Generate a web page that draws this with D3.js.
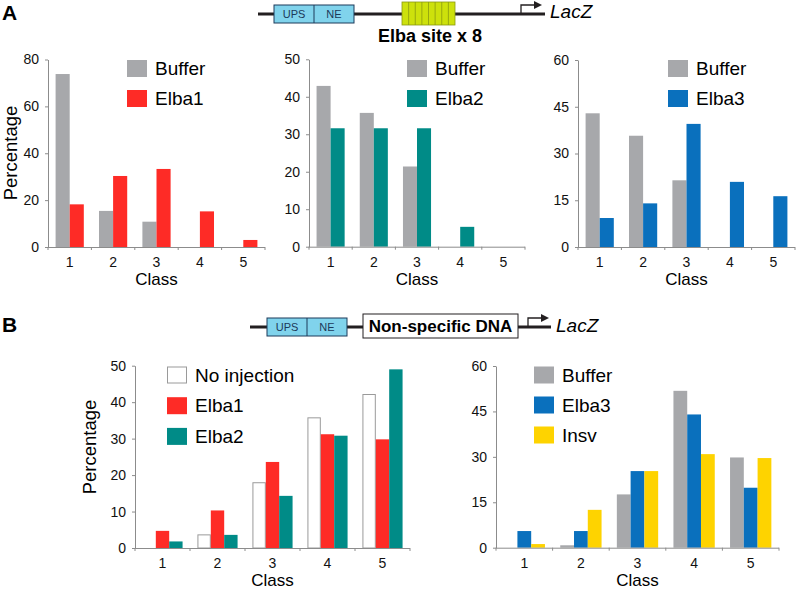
<!DOCTYPE html>
<html>
<head>
<meta charset="utf-8">
<title>Elba reporter assays</title>
<script src="https://cdnjs.cloudflare.com/ajax/libs/d3/7.8.5/d3.min.js"></script>
<style>
  body { margin: 0; background: #fff; }
  svg { font-family: "Liberation Sans", Arial, Helvetica, sans-serif; }
  .axis path, .axis line { stroke: #8c8c8c; }
  .axis text { font-size: 14px; fill: #111; }
</style>
</head>
<body>
<div id="chart"></div>
<script>
// ---- data ----
var classes = ["1", "2", "3", "4", "5"];

var a1Buffer = [73.8, 15.4, 10.8, 0, 0];
var a1Elba1  = [18.2, 30.3, 33.3, 15.2, 3.0];
var a2Buffer = [42.9, 35.7, 21.4, 0, 0];
var a2Elba2  = [31.6, 31.6, 31.6, 5.3, 0];
var a3Buffer = [42.9, 35.7, 21.4, 0, 0];
var a3Elba3  = [9.3, 14.0, 39.5, 20.9, 16.3];

var b1NoInj  = [0, 3.6, 17.9, 35.7, 42.1];
var b1Elba1  = [4.7, 10.3, 23.6, 31.2, 29.8];
var b1Elba2  = [1.8, 3.6, 14.3, 30.8, 49.0];
var b2Buffer = [0, 0.8, 17.6, 51.8, 29.8];
var b2Elba3  = [5.5, 5.5, 25.3, 44.0, 19.8];
var b2Insv   = [1.2, 12.5, 25.3, 30.9, 29.6];

var ticks80 = [0, 20, 40, 60, 80],
    ticks50 = [0, 10, 20, 30, 40, 50],
    ticks60 = [0, 15, 30, 45, 60];

var colors = {
    buffer: "#a7a8ab",
    elba1: "#fe2b26",
    elba2: "#008b87",
    elba3: "#0a70bd",
    insv: "#fed300",
    none: "#ffffff"
};

var width = 797, height = 591;
var svg = d3.select("#chart").append("svg")
    .attr("width", width)
    .attr("height", height);

// ---- one bar chart panel ----
function panel(c) {
    var g = svg.append("g");
    var x = d3.scaleBand().domain(classes)
        .range([c.x0, c.x1]).paddingInner(c.pad).paddingOuter(c.pad / 2);
    var y = d3.scaleLinear().domain([0, c.max]).range([c.y0, c.yTop]);
    var sub = d3.scaleBand().domain(c.series.map(function(s) { return s.name; }))
        .range([0, x.bandwidth()]);

    // y axis
    g.append("g").attr("class", "axis")
        .attr("transform", "translate(" + c.x0 + ",0)")
        .call(d3.axisLeft(y).tickValues(c.ticks).tickSize(3).tickPadding(6).tickSizeOuter(0));

    // bars
    c.series.forEach(function(s) {
        g.selectAll(null)
            .data(s.values.map(function(v, i) { return {k: classes[i], v: v}; })
                .filter(function(d) { return d.v > 0; }))
            .enter().append("rect")
            .attr("x", function(d) { return x(d.k) + sub(s.name) + (s.stroke ? 0.5 : 0); })
            .attr("y", function(d) { return y(d.v); })
            .attr("width", sub.bandwidth() - (s.stroke ? 1 : 0))
            .attr("height", function(d) { return c.y0 - y(d.v); })
            .attr("fill", s.color)
            .attr("stroke", s.stroke || "none");
    });

    // x axis line, boundary ticks, labels
    var step = x.step();
    var xa = g.append("g").attr("class", "axis");
    xa.append("line").attr("x1", c.x0).attr("x2", c.x1)
        .attr("y1", c.y0 + 0.5).attr("y2", c.y0 + 0.5);
    xa.selectAll(".bt").data(d3.range(classes.length + 1)).enter().append("line")
        .attr("x1", function(i) { return c.x0 + i * step; })
        .attr("x2", function(i) { return c.x0 + i * step; })
        .attr("y1", c.y0).attr("y2", c.y0 + 3);
    xa.selectAll(".lab").data(classes).enter().append("text")
        .attr("x", function(d) { return x(d) + x.bandwidth() / 2; })
        .attr("y", c.y0 + 20)
        .attr("text-anchor", "middle")
        .text(function(d) { return d; });

    g.append("text")
        .attr("x", (c.x0 + c.x1) / 2).attr("y", c.y0 + 38)
        .attr("text-anchor", "middle").style("font-size", "17px")
        .text("Class");

    if (c.ylabel) {
        g.append("text")
            .attr("transform", "translate(" + c.ylabel[0] + "," + c.ylabel[1] + ") rotate(-90)")
            .attr("text-anchor", "middle").style("font-size", "18.5px")
            .text("Percentage");
    }

    // legend
    var lg = g.append("g").attr("transform", "translate(" + c.legend[0] + "," + c.legend[1] + ")");
    c.series.forEach(function(s, i) {
        lg.append("rect")
            .attr("x", s.stroke ? 0.5 : 0).attr("y", i * c.legendStep + (s.stroke ? 0.5 : 0))
            .attr("width", s.stroke ? 19 : 20).attr("height", s.stroke ? 16 : 17)
            .attr("fill", s.color).attr("stroke", s.stroke || "none");
        lg.append("text")
            .attr("x", 28).attr("y", i * c.legendStep + 15)
            .style("font-size", "19px")
            .text(s.name);
    });
}

panel({x0: 48, x1: 265, yTop: 59.5, y0: 247, max: 80, ticks: ticks80, pad: 0.35,
    series: [{name: "Buffer", values: a1Buffer, color: colors.buffer},
             {name: "Elba1", values: a1Elba1, color: colors.elba1}],
    legend: [127, 60], legendStep: 30, ylabel: [17, 153]});
panel({x0: 309, x1: 525, yTop: 59.3, y0: 246.7, max: 50, ticks: ticks50, pad: 0.35,
    series: [{name: "Buffer", values: a2Buffer, color: colors.buffer},
             {name: "Elba2", values: a2Elba2, color: colors.elba2}],
    legend: [407, 60], legendStep: 30});
panel({x0: 578, x1: 795, yTop: 60, y0: 247, max: 60, ticks: ticks60, pad: 0.35,
    series: [{name: "Buffer", values: a3Buffer, color: colors.buffer},
             {name: "Elba3", values: a3Elba3, color: colors.elba3}],
    legend: [668, 60], legendStep: 30});
panel({x0: 135, x1: 410, yTop: 365.7, y0: 548, max: 50, ticks: ticks50, pad: 0.27,
    series: [{name: "No injection", values: b1NoInj, color: colors.none, stroke: "#9a9a9a"},
             {name: "Elba1", values: b1Elba1, color: colors.elba1},
             {name: "Elba2", values: b1Elba2, color: colors.elba2}],
    legend: [167, 366.5], legendStep: 30.7, ylabel: [96, 447]});
panel({x0: 496, x1: 779, yTop: 366, y0: 547.7, max: 60, ticks: ticks60, pad: 0.27,
    series: [{name: "Buffer", values: b2Buffer, color: colors.buffer},
             {name: "Elba3", values: b2Elba3, color: colors.elba3},
             {name: "Insv", values: b2Insv, color: colors.insv}],
    legend: [534, 366.5], legendStep: 30});

// ---- panel letters ----
svg.append("text").attr("x", 2).attr("y", 20).style("font-size", "21px")
    .style("font-weight", "bold").text("A");
svg.append("text").attr("x", 2).attr("y", 332).style("font-size", "21px")
    .style("font-weight", "bold").text("B");

// ---- construct diagrams ----
var ink = "#231f20";
function upsNe(g, x, yT, h) {
    g.append("rect").attr("x", x).attr("y", yT).attr("width", 80).attr("height", h)
        .attr("fill", "#80d3ec").attr("stroke", "#1c3a5a").attr("stroke-width", 1);
    g.append("line").attr("x1", x + 40).attr("x2", x + 40).attr("y1", yT).attr("y2", yT + h)
        .attr("stroke", "#1c3a5a");
    g.append("text").attr("x", x + 20).attr("y", yT + h / 2 + 4).attr("text-anchor", "middle")
        .style("font-size", "11px").attr("fill", "#1c3a5a").text("UPS");
    g.append("text").attr("x", x + 60).attr("y", yT + h / 2 + 4).attr("text-anchor", "middle")
        .style("font-size", "11px").attr("fill", "#1c3a5a").text("NE");
}
function promoter(g, x, yLine) {
    g.append("path")
        .attr("d", "M" + x + "," + yLine + "V" + (yLine - 9) + "H" + (x + 14))
        .attr("fill", "none").attr("stroke", ink).attr("stroke-width", 1.3);
    g.append("path")
        .attr("d", "M" + (x + 21) + "," + (yLine - 9) + "L" + (x + 13) + "," + (yLine - 13) +
            "L" + (x + 13) + "," + (yLine - 5) + "Z")
        .attr("fill", ink);
}

var dA = svg.append("g");
dA.append("line").attr("x1", 258).attr("x2", 545).attr("y1", 14).attr("y2", 14)
    .attr("stroke", ink).attr("stroke-width", 3);
upsNe(dA, 274, 5, 18);
dA.append("rect").attr("x", 402).attr("y", 2).attr("width", 53).attr("height", 23)
    .attr("fill", "#cde10c").attr("stroke", "#8a9a10").attr("stroke-width", 0.8);
d3.range(1, 8).forEach(function(i) {
    dA.append("line").attr("x1", 402 + i * 53 / 8).attr("x2", 402 + i * 53 / 8)
        .attr("y1", 2).attr("y2", 25).attr("stroke", "#8a9a10").attr("stroke-width", 0.8);
});
promoter(dA, 521, 14);
dA.append("text").attr("x", 550).attr("y", 18).style("font-size", "19px")
    .style("font-style", "italic").text("LacZ");
dA.append("text").attr("x", 430).attr("y", 42).attr("text-anchor", "middle")
    .style("font-size", "18px").style("font-weight", "bold").text("Elba site x 8");

var dB = svg.append("g");
dB.append("line").attr("x1", 250).attr("x2", 551).attr("y1", 327).attr("y2", 327)
    .attr("stroke", ink).attr("stroke-width", 3);
upsNe(dB, 267, 318, 18);
dB.append("rect").attr("x", 363).attr("y", 314).attr("width", 155).attr("height", 24)
    .attr("fill", "#fff").attr("stroke", ink).attr("stroke-width", 1);
dB.append("text").attr("x", 440.5).attr("y", 332).attr("text-anchor", "middle")
    .style("font-size", "17px").style("font-weight", "bold").text("Non-specific DNA");
promoter(dB, 528, 327);
dB.append("text").attr("x", 556).attr("y", 332).style("font-size", "19px")
    .style("font-style", "italic").text("LacZ");
</script>
</body>
</html>
